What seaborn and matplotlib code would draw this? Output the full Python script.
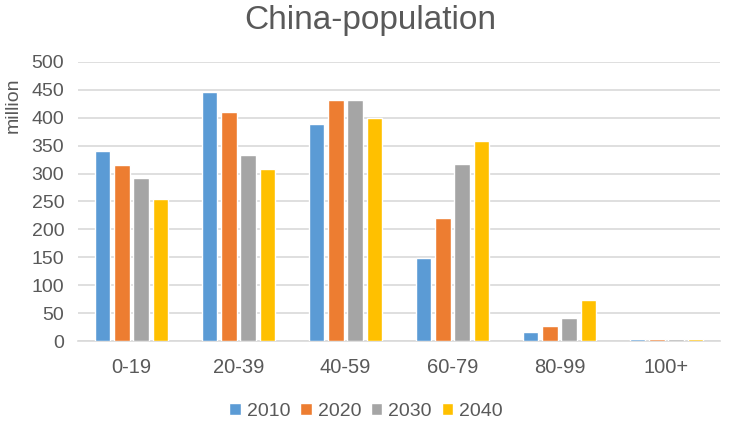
import pandas as pd
import matplotlib
matplotlib.use("Agg")
import matplotlib.pyplot as plt
import seaborn as sns

# population by age group, million
age_groups = ["0-19", "20-39", "40-59", "60-79", "80-99", "100+"]
years = ["2010", "2020", "2030", "2040"]
pop_2010 = [340, 446, 388, 148, 17, 4]
pop_2020 = [315, 411, 431, 220, 27, 4]
pop_2030 = [292, 334, 431, 317, 42, 4]
pop_2040 = [254, 309, 399, 358, 73, 4]
colors = ["#5B9BD5", "#ED7D31", "#A5A5A5", "#FFC000"]

rows = []
for year, vals in zip(years, [pop_2010, pop_2020, pop_2030, pop_2040]):
    for grp, v in zip(age_groups, vals):
        rows.append((grp, year, v))
df = pd.DataFrame(rows, columns=["age", "year", "population"])

sns.set_theme(style="white")
plt.rcParams["font.family"] = ["Liberation Sans", "DejaVu Sans"]
text_color = "#595959"

fig = plt.figure(figsize=(7.32, 4.26), dpi=100)
ax = fig.add_axes([0.1066, 0.1995, 0.877, 0.655])
sns.barplot(data=df, x="age", y="population", hue="year", order=age_groups,
            hue_order=years, palette=colors, width=0.72, gap=0.2,
            saturation=1, ax=ax, legend=True, zorder=3)

ax.set_ylim(0, 500)
ax.set_xlim(-0.5, 5.5)
ax.set_yticks(range(0, 501, 50))
ax.yaxis.grid(True, color="#D9D9D9", linewidth=1.2, zorder=0)
ax.set_axisbelow(True)
for s in ["top", "right", "left"]:
    ax.spines[s].set_visible(False)
ax.spines["bottom"].set_color("#D9D9D9")
ax.spines["bottom"].set_linewidth(1.2)
ax.spines["bottom"].set_zorder(0)
ax.tick_params(axis="both", length=0, labelsize=14, colors=text_color, pad=10)
ax.tick_params(axis="x", labelsize=14.5, pad=12)
ax.set_xlabel("")
ax.set_ylabel("million", fontsize=14, color=text_color)
ax.yaxis.set_label_coords(-0.088, 0.846)

fig.suptitle("China-population", fontsize=24, color=text_color, x=0.506, y=0.988)

handles, labels = ax.get_legend_handles_labels()
ax.get_legend().remove()
fig.legend(handles, labels, loc="lower center", bbox_to_anchor=(0.5, -0.027), ncol=4,
           frameon=False, fontsize=14, handlelength=0.6, handleheight=0.6,
           handletextpad=0.3, columnspacing=0.5, labelcolor=text_color)

fig.savefig("out.png", dpi=100)
